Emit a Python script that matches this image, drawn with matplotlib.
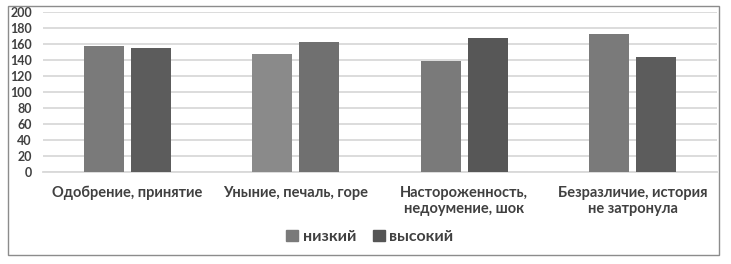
import matplotlib
matplotlib.use("Agg")
import matplotlib.pyplot as plt
from matplotlib.patches import Rectangle, Patch
import numpy as np

categories = ["Одобрение, принятие", "Уныние, печаль, горе",
              "Настороженность,\nнедоумение, шок", "Безразличие, история\nне затронула"]
low = [158, 147, 139, 172]
high = [155, 162, 168, 144]
series_names = ["низкий", "высокий"]
yticks = [0, 20, 40, 60, 80, 100, 120, 140, 160, 180, 200]

low_colors = ["#7a7a7a", "#8a8a8a", "#7a7a7a", "#7a7a7a"]
high_colors = ["#5c5c5c", "#707070", "#575757", "#5c5c5c"]

plt.rcParams['font.family'] = ['Lato', 'DejaVu Sans']
txt = "#404040"

fig = plt.figure(figsize=(7.31, 2.64), dpi=100)
ax = fig.add_axes([43/731, 92/264, 674/731, 160/264])

x = np.arange(len(categories))
w = 0.238
off = 0.14
ax.bar(x - off, low, width=w, color=low_colors, label=series_names[0], zorder=3)
ax.bar(x + off, high, width=w, color=high_colors, label=series_names[1], zorder=3)

ax.set_xlim(-0.5, len(categories) - 0.5)
ax.set_ylim(0, 200)
ax.set_yticks(yticks)
ax.set_yticklabels([str(t) for t in yticks], fontsize=9, color=txt, fontweight="bold")
ax.yaxis.grid(True, color="#d9d9d9", linewidth=1.3, zorder=0)
ax.set_xticks(x)
ax.set_xticklabels(categories, fontsize=10.5, color=txt, fontweight="bold", linespacing=1.15)
ax.tick_params(axis="both", length=0)
ax.tick_params(axis="x", pad=10)
ax.tick_params(axis="y", pad=8)
for s in ["top", "right", "left"]:
    ax.spines[s].set_visible(False)
ax.spines["bottom"].set_color("#d9d9d9")
ax.spines["bottom"].set_linewidth(1.3)

handles = [Patch(color="#7a7a7a"), Patch(color="#555555")]
fig.legend(handles, series_names, loc="center", bbox_to_anchor=(370/731, 1 - 237/264),
           ncol=2, frameon=False, handlelength=0.75, handleheight=0.75,
           columnspacing=1.0, handletextpad=0.3,
           prop={"family": ["Lato", "DejaVu Sans"], "weight": "bold", "size": 11.5},
           labelcolor=txt)

fig.patches.append(Rectangle((8/731, 1 - 255/264), 711/731, 249/264, transform=fig.transFigure,
                             fill=False, edgecolor="#8c8c8c", linewidth=1.0))

fig.savefig("out.png", dpi=100)
